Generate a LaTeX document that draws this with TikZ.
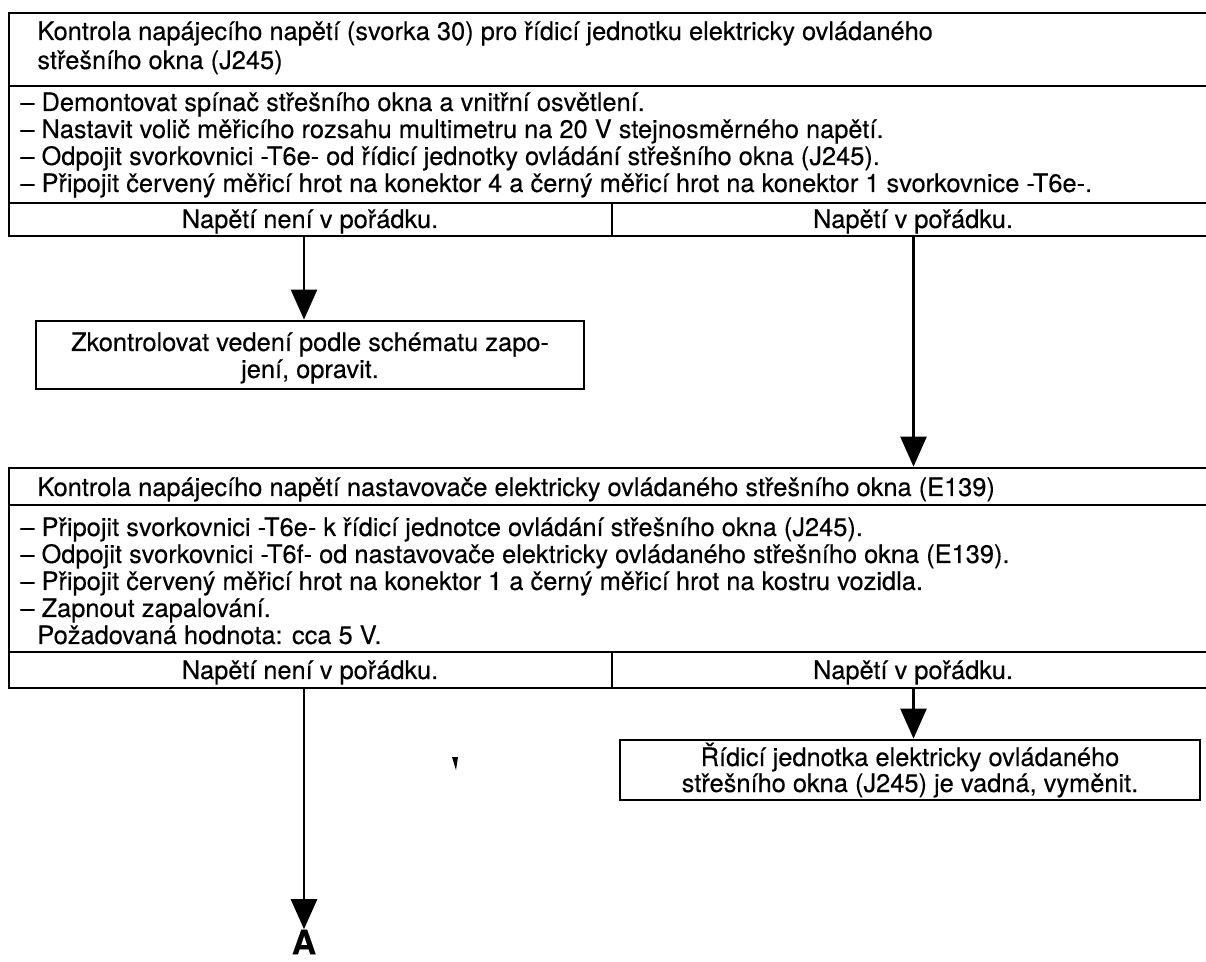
\documentclass[tikz,border=0pt]{standalone}
\usepackage{fontspec}
\setmainfont{TeX Gyre Heros}[FakeBold=0.3]
\usetikzlibrary{arrows.meta,fit}
\begin{document}
\begin{tikzpicture}[x=0.5pt,y=-0.5pt,
  frame/.style={draw, line width=1.4pt, inner sep=0pt},
  txt/.style={inner sep=0pt, anchor=base west, font=\fontsize{12.7}{14}\selectfont},
  ctxt/.style={inner sep=0pt, anchor=base, font=\fontsize{12.7}{14}\selectfont},
  flow/.style={line width=1.3pt, -{Triangle[width=13pt,length=15pt]}},
]
\useasboundingbox (0,0) rectangle (1206,962);
\clip (0,0) rectangle (1206,962);

% ---- first test block ----
\node[frame, fit={(9,13) (1215,86)}] (t1) {};
\node[frame, fit={(9,86) (1215,203)}] (l1) {};
\node[frame, fit={(9,203) (612,236)}] (n1) {};
\node[frame, fit={(612,203) (1215,236)}] (y1) {};

\node[txt] (t1a) at (37,40) {Kontrola napájecího napětí (svorka 30) pro řídicí jednotku elektricky ovládaného};
\node[txt] (t1b) at (37,69) {střešního okna (J245)};
\node[txt] (l1a) at (20,111) {– Demontovat spínač střešního okna a vnitřní osvětlení.};
\node[txt] (l1b) at (20,138) {– Nastavit volič měřicího rozsahu multimetru na 20 V stejnosměrného napětí.};
\node[txt] (l1c) at (20,165) {– Odpojit svorkovnici -T6e- od řídicí jednotky ovládání střešního okna (J245).};
\node[txt] (l1d) at (20,192) {– Připojit červený měřicí hrot na konektor 4 a černý měřicí hrot na konektor 1 svorkovnice -T6e-.};
\node[ctxt] (n1t) at (310,228) {Napětí není v pořádku.};
\node[ctxt] (y1t) at (913,228) {Napětí v pořádku.};

% ---- wiring check ----
\node[frame, fit={(36,321) (584,389)}] (chk) {};
\node[ctxt] (chka) at (310,351) {Zkontrolovat vedení podle schématu zapo-};
\node[ctxt] (chkb) at (310,378) {jení, opravit.};

% ---- second test block ----
\node[frame, fit={(9,468) (1215,505)}] (t2) {};
\node[frame, fit={(9,505) (1215,652)}] (l2) {};
\node[frame, fit={(9,652) (612,688)}] (n2) {};
\node[frame, fit={(612,652) (1215,688)}] (y2) {};

\node[txt] (t2a) at (37,496) {Kontrola napájecího napětí nastavovače elektricky ovládaného střešního okna (E139)};
\node[txt] (l2a) at (20,536) {– Připojit svorkovnici -T6e- k řídicí jednotce ovládání střešního okna (J245).};
\node[txt] (l2b) at (20,563) {– Odpojit svorkovnici -T6f- od nastavovače elektricky ovládaného střešního okna (E139).};
\node[txt] (l2c) at (20,590) {– Připojit červený měřicí hrot na konektor 1 a černý měřicí hrot na kostru vozidla.};
\node[txt] (l2d) at (20,617) {– Zapnout zapalování.};
\node[txt] (l2e) at (37,644) {Požadovaná hodnota: cca 5 V.};
\node[ctxt] (n2t) at (310,679) {Napětí není v pořádku.};
\node[ctxt] (y2t) at (913,679) {Napětí v pořádku.};

% ---- result ----
\node[frame, fit={(620,740) (1200,800)}] (ecu) {};
\node[ctxt] (ecua) at (910,766) {Řídicí jednotka elektricky ovládaného};
\node[ctxt] (ecub) at (910,792) {střešního okna (J245) je vadná, vyměnit.};

\node[inner sep=0pt, font=\fontsize{17}{17}\bfseries\selectfont] (A) at (304,942) {A};

% ---- connectors ----
\coordinate (s1) at (n1.south -| A.north);
\coordinate (s2) at (n2.south -| A.north);
\draw[flow] (s1) -- (s1 |- chk.north);
\draw[flow] (y1.south) -- (y1.south |- t2.north);
\draw[flow] (s2) -- (A.north);
\draw[flow] (y2.south) -- (y2.south |- ecu.north);

% small stray tick under the lower left option
\fill (452,757) -- (458,757) -- (456,770) -- cycle;
\end{tikzpicture}
\end{document}
